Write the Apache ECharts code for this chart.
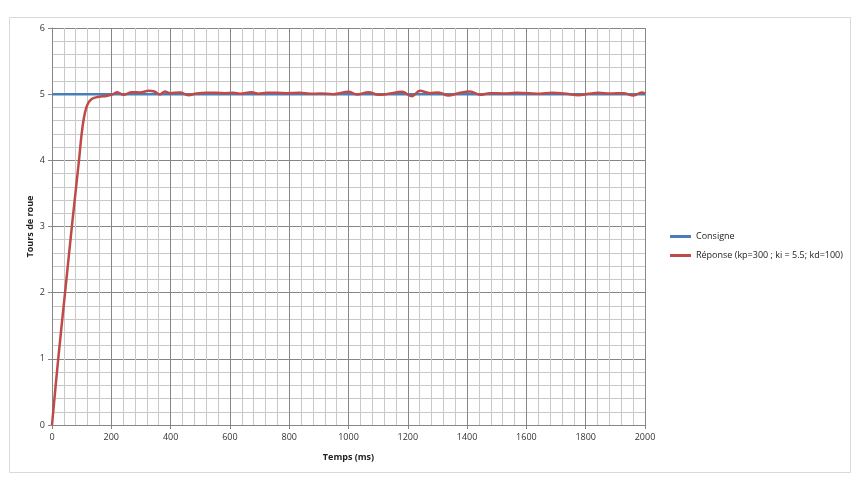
<!DOCTYPE html>
<html lang="fr">
<head>
    <meta charset="UTF-8">
    <title>Réponse PID</title>
    <script src="https://cdn.jsdelivr.net/npm/echarts@6/dist/echarts.min.js"></script>
    <style>
        html, body { margin: 0; padding: 0; background: #fff; }
    </style>
</head>
<body>
    <div id="main" style="width: 859px; height: 483px;"></div>
    <script>
        // temps (ms) et tours de roue
        const consigneTemps = [0, 2000];
        const consigneValeurs = [5, 5];

        const reponseTemps = [
            0, 21, 44, 67, 91, 100, 108, 116, 124, 132, 140, 152, 165, 180, 195, 206, 220, 241,
            269, 297, 325, 345, 364, 381, 398, 432, 460, 488, 522, 555, 583, 612, 634, 673,
            696, 724, 758, 791, 836, 870, 904, 949, 1000, 1028, 1067, 1101, 1134, 1180, 1213,
            1241, 1275, 1303, 1337, 1370, 1410, 1444, 1477, 1522, 1567, 1607, 1646, 1686,
            1736, 1775, 1809, 1843, 1882, 1927, 1961, 1989, 2000
        ];
        const reponseValeurs = [
            0, 1, 2, 3, 4, 4.4, 4.65, 4.8, 4.88, 4.92, 4.94, 4.955, 4.965, 4.97, 4.985, 5.0, 5.03, 4.99,
            5.03, 5.025, 5.05, 5.04, 4.995, 5.04, 5.015, 5.025, 4.985, 5.01, 5.02, 5.02, 5.015, 5.02, 5.005, 5.03,
            5.005, 5.02, 5.02, 5.015, 5.02, 5.005, 5.01, 5.0, 5.035, 4.995, 5.03, 4.99, 5.005, 5.035, 4.97,
            5.05, 5.015, 5.025, 4.98, 5.015, 5.04, 4.99, 5.015, 5.01, 5.02, 5.015, 5.005, 5.02,
            5.005, 4.985, 5.005, 5.02, 5.01, 5.015, 4.98, 5.025, 5.01
        ];

        const zip = (xs, ys) => xs.map((x, i) => [x, ys[i]]);

        const police = 'Open Sans, Liberation Sans, sans-serif';
        const gris = '#868686';
        const grisClair = '#c8c8c8';

        var myChart = echarts.init(document.getElementById('main'));
        option = {
            animation: false,
            textStyle: { fontFamily: police },
            graphic: [
                {
                    type: 'rect',
                    shape: { x: 9.5, y: 17.5, width: 841, height: 455 },
                    style: { fill: 'none', stroke: '#d9d9d9', lineWidth: 1 },
                    z: -10
                }
            ],
            grid: { left: 52, right: 214, top: 28, bottom: 58 },
            legend: {
                orient: 'vertical',
                left: 670,
                top: 232,
                padding: 0,
                itemWidth: 21,
                itemHeight: 3,
                itemGap: 10,
                icon: 'rect',
                textStyle: { fontSize: 9, color: '#222', fontFamily: police },
                data: ['Consigne', 'Réponse (kp=300 ; ki = 5.5; kd=100)']
            },
            xAxis: {
                type: 'value',
                min: 0,
                max: 2000,
                interval: 200,
                name: 'Temps (ms)',
                nameLocation: 'middle',
                nameGap: 28,
                nameTextStyle: { fontSize: 9, fontWeight: 'bold', color: '#222' },
                axisLine: { lineStyle: { color: gris } },
                axisTick: { show: true, length: 4, lineStyle: { color: gris } },
                axisLabel: { fontSize: 9, color: '#333', margin: 8, formatter: v => String(v) },
                splitLine: { lineStyle: { color: gris, width: 1 } },
                minorTick: { show: false, splitNumber: 5 },
                minorSplitLine: { show: true, lineStyle: { color: grisClair, width: 1 } }
            },
            yAxis: {
                type: 'value',
                min: 0,
                max: 6,
                interval: 1,
                name: 'Tours de roue',
                nameLocation: 'middle',
                nameGap: 17,
                nameMoveOverlap: false,
                nameTextStyle: { fontSize: 9, fontWeight: 'bold', color: '#222' },
                axisLine: { show: true, lineStyle: { color: gris } },
                axisTick: { show: true, length: 4, lineStyle: { color: gris } },
                axisLabel: { fontSize: 9, color: '#333', margin: 7 },
                splitLine: { lineStyle: { color: gris, width: 1 } },
                minorTick: { show: false, splitNumber: 5 },
                minorSplitLine: { show: true, lineStyle: { color: grisClair, width: 1 } }
            },
            series: [
                {
                    name: 'Consigne',
                    type: 'line',
                    showSymbol: false,
                    data: zip(consigneTemps, consigneValeurs),
                    lineStyle: { color: '#4a7ebb', width: 2.5 },
                    itemStyle: { color: '#4a7ebb' }
                },
                {
                    name: 'Réponse (kp=300 ; ki = 5.5; kd=100)',
                    type: 'line',
                    showSymbol: false,
                    smooth: 0.35,
                    data: zip(reponseTemps, reponseValeurs),
                    lineStyle: { color: '#be4b48', width: 2.5 },
                    itemStyle: { color: '#be4b48' }
                }
            ]
        };
        myChart.setOption(option);
    </script>
</body>
</html>
